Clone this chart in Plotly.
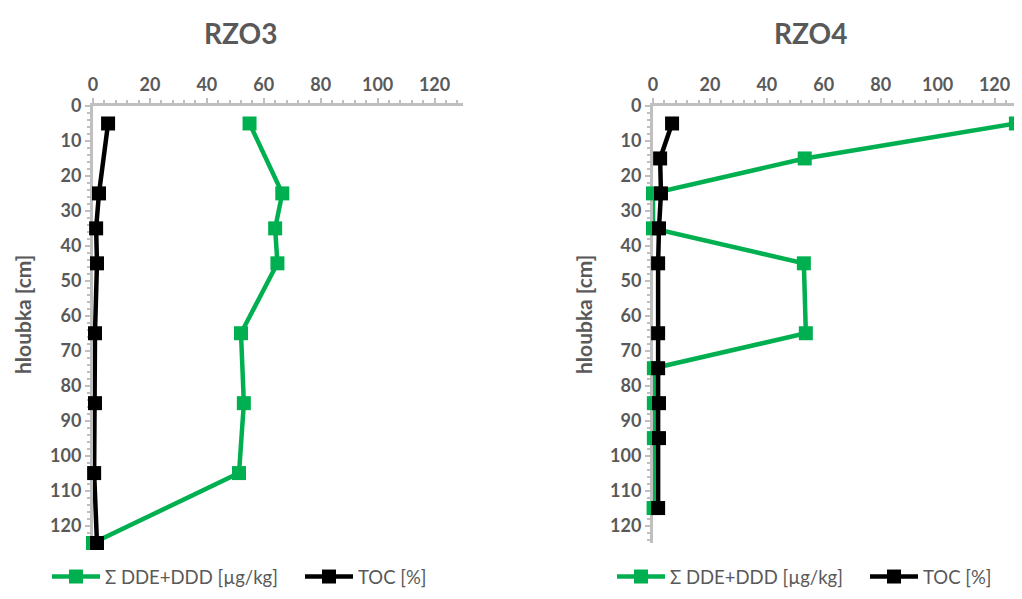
import plotly.graph_objects as go

# ---- data ----
depth_rzo3 = [5, 25, 35, 45, 65, 85, 105, 125]
dde_rzo3 = [55, 66.5, 64, 64.8, 52, 53, 51.3, 0]
toc_rzo3 = [5.3, 2.1, 1.1, 1.4, 0.7, 0.7, 0.4, 1.4]

depth_rzo4 = [5, 15, 25, 35, 45, 65, 75, 85, 95, 115]
dde_rzo4 = [127.5, 53.3, 0, 0, 53, 53.7, 0.3, 0.3, 0.3, 0.2]
toc_rzo4 = [6.7, 2.5, 2.8, 2.1, 1.8, 1.8, 1.8, 2.1, 2.1, 1.8]

titles = ["RZO3", "RZO4"]
name_dde = "Σ DDE+DDD [µg/kg]"
name_toc = "TOC [%]"
y_title = "hloubka [cm]"

GREEN = "#00B050"
BLACK = "#000000"
GRAY = "#595959"
AXIS = "#BFBFBF"
FONT = "Lato"

W, H = 1022, 599
OFF = 8  # page body margin

def px(x):
    return (x - OFF) / W

def py(y):
    return 1 - (y - OFF) / H

fig = go.Figure()

panels = [
    (depth_rzo3, dde_rzo3, toc_rzo3, "x", "y", "legend"),
    (depth_rzo4, dde_rzo4, toc_rzo4, "x2", "y2", "legend2"),
]
for depth, dde, toc, xa, ya, lg in panels:
    fig.add_trace(go.Scatter(
        x=dde, y=depth, name=name_dde, mode="lines+markers",
        line=dict(color=GREEN, width=4.5),
        marker=dict(symbol="square", size=14, color=GREEN),
        xaxis=xa, yaxis=ya, legend=lg, cliponaxis=False))
    fig.add_trace(go.Scatter(
        x=toc, y=depth, name=name_toc, mode="lines+markers",
        line=dict(color=BLACK, width=4.5),
        marker=dict(symbol="square", size=14, color=BLACK),
        xaxis=xa, yaxis=ya, legend=lg, cliponaxis=False))

tickfont = dict(family=FONT, size=18, color=GRAY, weight="bold")

def xaxis_cfg(domain, anchor):
    return dict(
        domain=domain, range=[0, 130], side="top", anchor=anchor,
        tickmode="linear", tick0=0, dtick=20,
        ticks="outside", ticklen=5, tickwidth=2, tickcolor=AXIS,
        minor=dict(dtick=4, ticks="outside", ticklen=3, tickwidth=2, tickcolor=AXIS),
        showline=True, linecolor=AXIS, linewidth=3,
        showgrid=False, zeroline=False, tickfont=tickfont,
        layer="below traces", fixedrange=True, automargin=False,
    )

def yaxis_cfg(domain, anchor):
    return dict(
        domain=domain, range=[125, 0], anchor=anchor,
        tickmode="linear", tick0=0, dtick=10,
        ticks="outside", ticklen=5, tickwidth=2, tickcolor=AXIS,
        minor=dict(dtick=2, ticks="outside", ticklen=3, tickwidth=2, tickcolor=AXIS),
        showline=True, linecolor=AXIS, linewidth=3,
        showgrid=False, zeroline=False, tickfont=tickfont,
        layer="below traces", fixedrange=True, automargin=False,
    )

ydom = [py(543), py(106)]

legfont = dict(family=FONT, size=18.5, color=GRAY)
titlefont = dict(family=FONT, size=28, color=GRAY, weight="bold")
ytfont = dict(family=FONT, size=21, color=GRAY, weight="bold")

fig.update_layout(
    width=W, height=H,
    margin=dict(l=0, r=0, t=0, b=0, autoexpand=False),
    paper_bgcolor="white", plot_bgcolor="white",
    xaxis=xaxis_cfg([px(93), px(1023 - 653 + 93)], "y"),
    yaxis=yaxis_cfg(ydom, "x"),
    xaxis2=xaxis_cfg([px(653), px(1023)], "y2"),
    yaxis2=yaxis_cfg(ydom, "x2"),
    legend=dict(orientation="h", x=px(47), y=py(577), xanchor="left", yanchor="middle",
                font=legfont, bgcolor="rgba(0,0,0,0)", itemwidth=48,
                entrywidth=190, entrywidthmode="pixels"),
    legend2=dict(orientation="h", x=px(612), y=py(577), xanchor="left", yanchor="middle",
                 font=legfont, bgcolor="rgba(0,0,0,0)", itemwidth=48,
                 entrywidth=190, entrywidthmode="pixels"),
    annotations=[
        dict(text=titles[0], x=px(240), y=py(33), xref="paper", yref="paper",
             xanchor="center", yanchor="middle", showarrow=False, font=titlefont),
        dict(text=titles[1], x=px(810), y=py(33), xref="paper", yref="paper",
             xanchor="center", yanchor="middle", showarrow=False, font=titlefont),
        dict(text=y_title, x=px(23), y=py(315), xref="paper", yref="paper",
             xanchor="center", yanchor="middle", textangle=-90, showarrow=False,
             font=ytfont),
        dict(text=y_title, x=px(584), y=py(315), xref="paper", yref="paper",
             xanchor="center", yanchor="middle", textangle=-90, showarrow=False,
             font=ytfont),
    ],
)

fig.write_html("out.html")
